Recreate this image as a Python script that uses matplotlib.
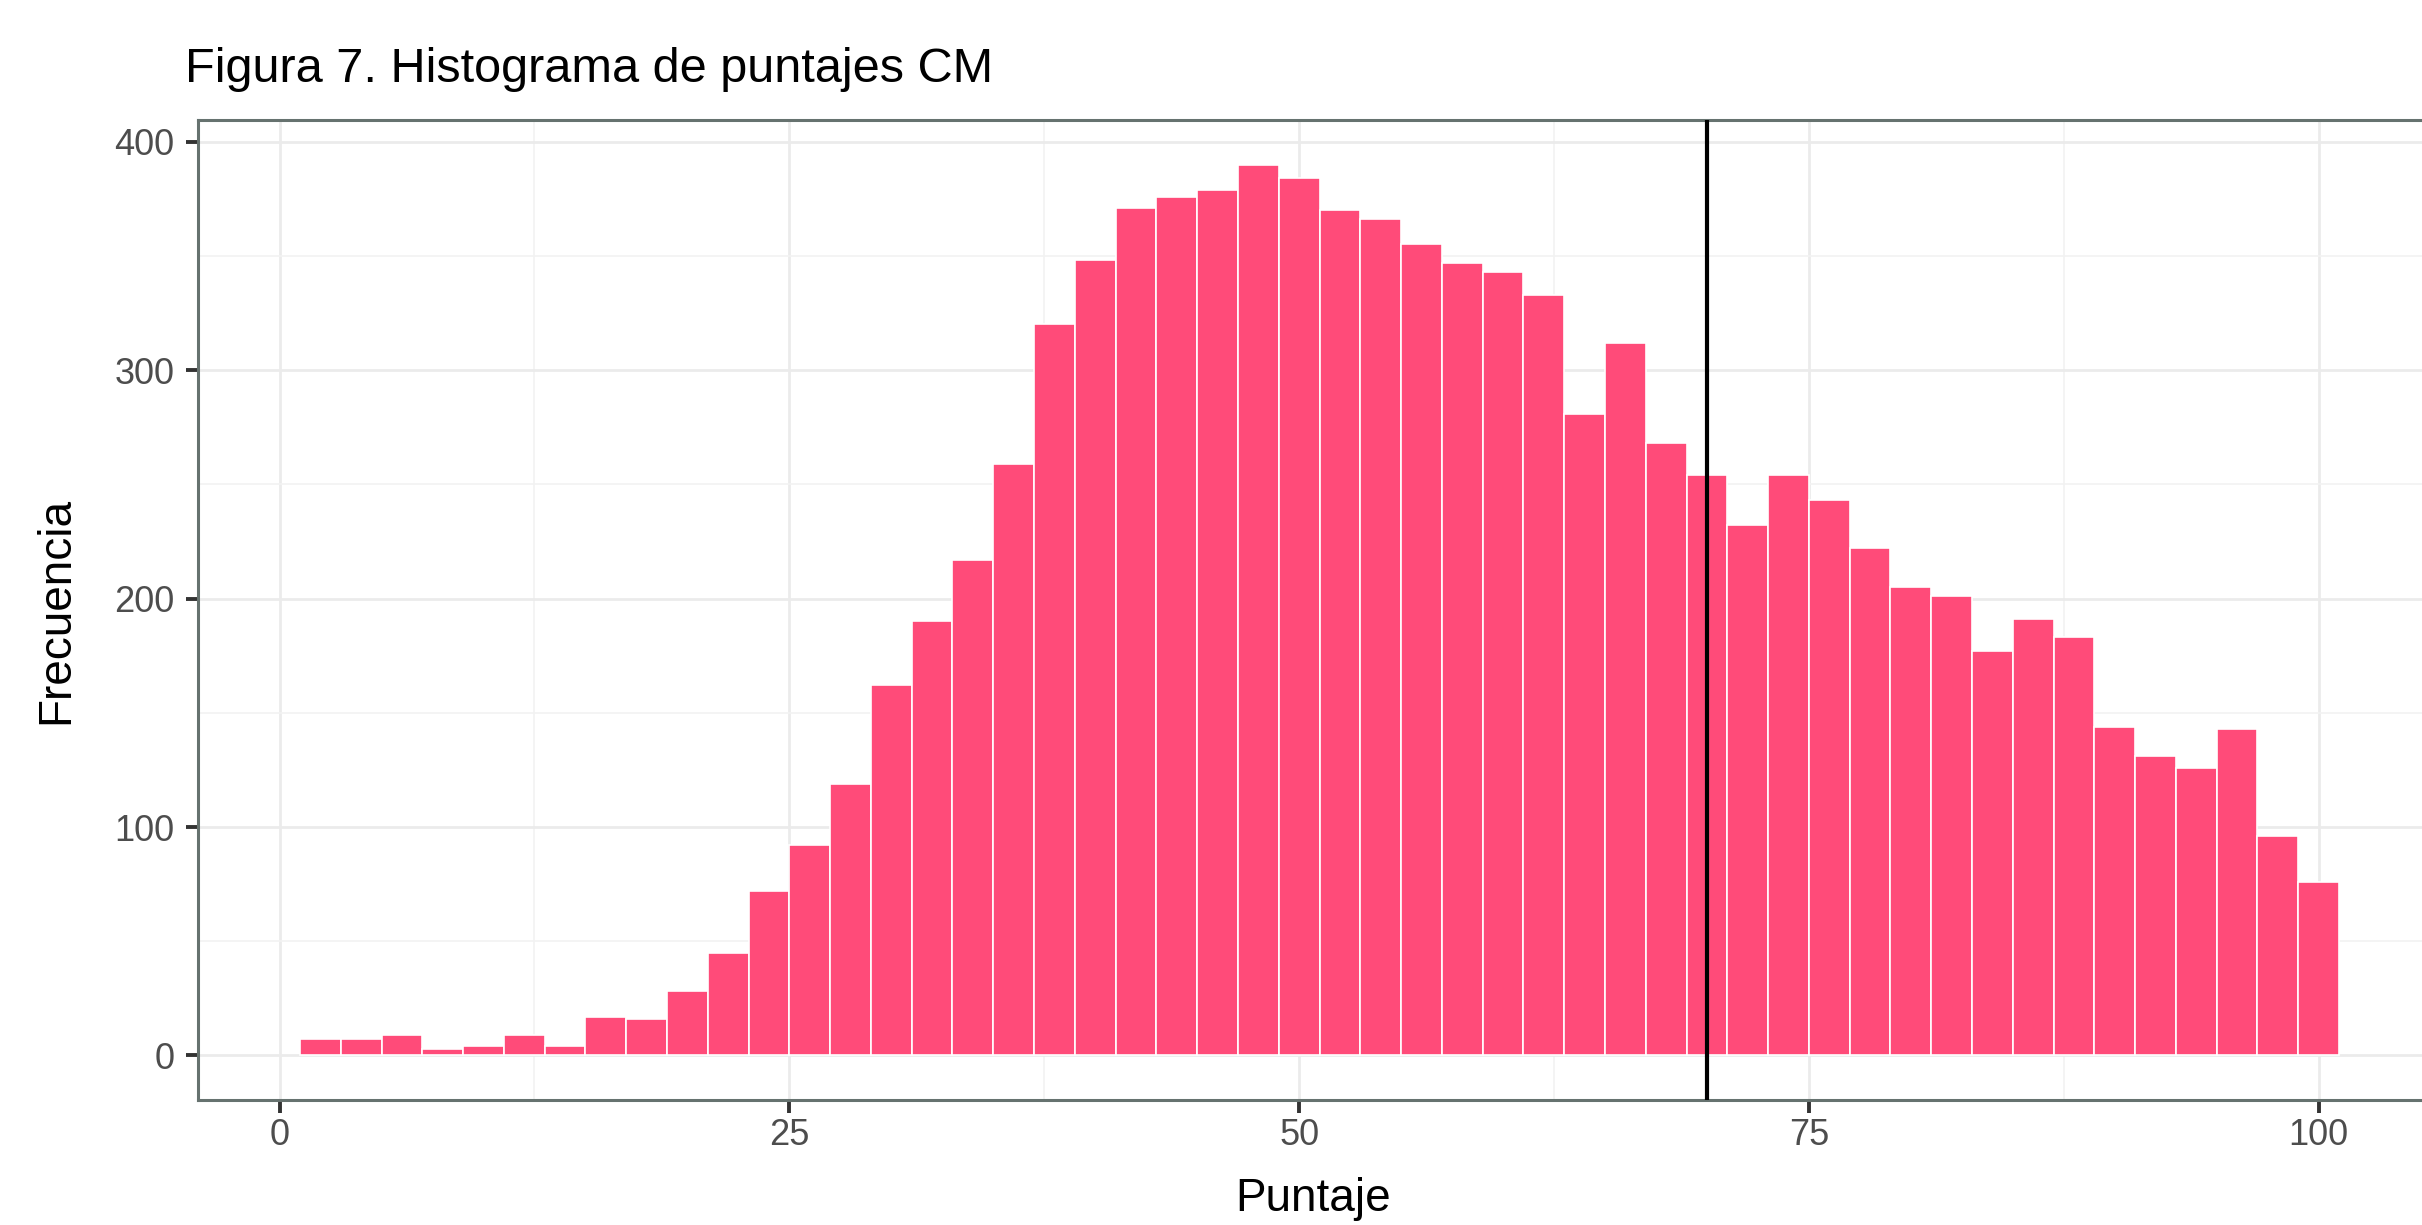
import matplotlib.pyplot as plt
from matplotlib.ticker import MultipleLocator

plt.rcParams['font.family'] = ['Liberation Sans', 'DejaVu Sans']

# histogram bins (width 2, from 1 to 101) and counts
bin_edges = list(range(1, 102, 2))
counts = [7, 7, 9, 3, 4, 9, 4, 17, 16, 28,
          45, 72, 92, 119, 162, 190, 217, 259, 320, 348,
          371, 376, 379, 390, 384, 370, 366, 355, 347, 343,
          333, 281, 312, 268, 254, 232, 254, 243, 222, 205,
          201, 177, 191, 183, 144, 131, 126, 143, 96, 76]
cutoff = 70
x_ticks = [0, 25, 50, 75, 100]
y_ticks = [0, 100, 200, 300, 400]

fig = plt.figure(figsize=(24.22, 12.25), dpi=100)
# panel runs past the right edge of the picture, as in the original crop
ax = fig.add_axes([198 / 2422, 1 - 1100 / 1225, (2441 - 198) / 2422, 980 / 1225])

lefts = bin_edges[:-1]
ax.bar(lefts, counts, width=2, align='edge', color='#FF4B79',
       edgecolor='white', linewidth=1.2, zorder=2)
ax.axvline(cutoff, color='black', linewidth=3.0, zorder=3)

ax.set_xlim(-4, 106)
ax.set_ylim(-19.5, 409.5)
ax.set_xticks(x_ticks)
ax.set_yticks(y_ticks)
ax.xaxis.set_minor_locator(MultipleLocator(12.5))
ax.yaxis.set_minor_locator(MultipleLocator(50))
ax.grid(which='major', color='#EBEBEB', linewidth=2.0, zorder=0)
ax.grid(which='minor', color='#F2F2F2', linewidth=1.2, zorder=0)
ax.set_axisbelow(True)

for s in ax.spines.values():
    s.set_color('#66726F')
    s.set_linewidth(2.2)
ax.tick_params(which='major', length=9, width=2.8, color='#333333',
               labelsize=26, labelcolor='#4D4D4D')
ax.tick_params(axis='x', pad=4)
ax.tick_params(axis='y', pad=8)
ax.tick_params(which='minor', length=0)

ax.set_xlabel('Puntaje', fontsize=33, color='black', va='center')
ax.xaxis.set_label_coords(0.497, -0.101)
ax.set_ylabel('Frecuencia', fontsize=33, color='black', va='center')
ax.yaxis.set_label_coords(-0.0633, 0.5)
fig.text(185 / 2422, 1 - 82 / 1225, 'Figura 7. Histograma de puntajes CM',
         fontsize=35, ha='left', va='baseline')

fig.savefig('out.png', dpi=100)
